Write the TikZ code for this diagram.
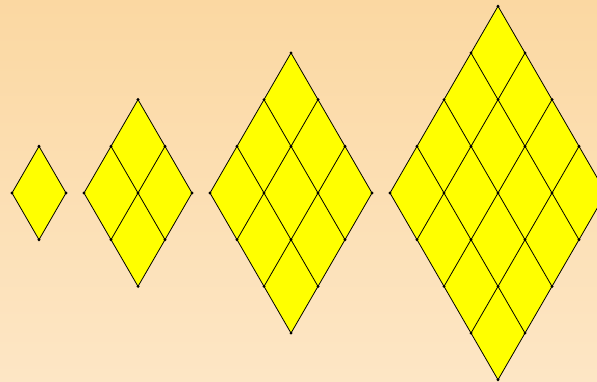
\documentclass[tikz,border=0pt]{standalone}
\usetikzlibrary{positioning}
\definecolor{bgtop}{RGB}{251,216,162}
\definecolor{bgbottom}{RGB}{253,230,197}
\definecolor{tile}{RGB}{255,255,0}

\begin{document}
\begin{tikzpicture}[x=1pt, y=-1pt,
  gridline/.style={draw=black, line width=0.8pt},
  vertex/.style={fill=black}]
  % background
  \shade[top color=bgtop, bottom color=bgbottom] (0,0) rectangle (597,382);
  \useasboundingbox (0,0) rectangle (597,382);
  \clip (0,0) rectangle (597,382);
  % rhombus lattices of size 1 to 4
  \foreach \cx/\n in {39/1, 138/2, 291/3, 498/4}{
    \pgfmathsetmacro\ty{193-\n*46.7}
    \fill[tile] (\cx,\ty) -- ++(-\n*27,\n*46.7) -- ++(\n*27,\n*46.7)
      -- ++(\n*27,-\n*46.7) -- cycle;
    \foreach \k in {0,...,\n}{
      \draw[gridline] (\cx+\k*27,\ty+\k*46.7) -- ++(-\n*27,\n*46.7);
      \draw[gridline] (\cx-\k*27,\ty+\k*46.7) -- ++(\n*27,\n*46.7);
    }
    \foreach \i in {0,...,\n}{
      \foreach \j in {0,...,\n}{
        \fill[vertex] (\cx+\j*27-\i*27,\ty+\i*46.7+\j*46.7) circle (1.6);
      }
    }
  }
\end{tikzpicture}
\end{document}
